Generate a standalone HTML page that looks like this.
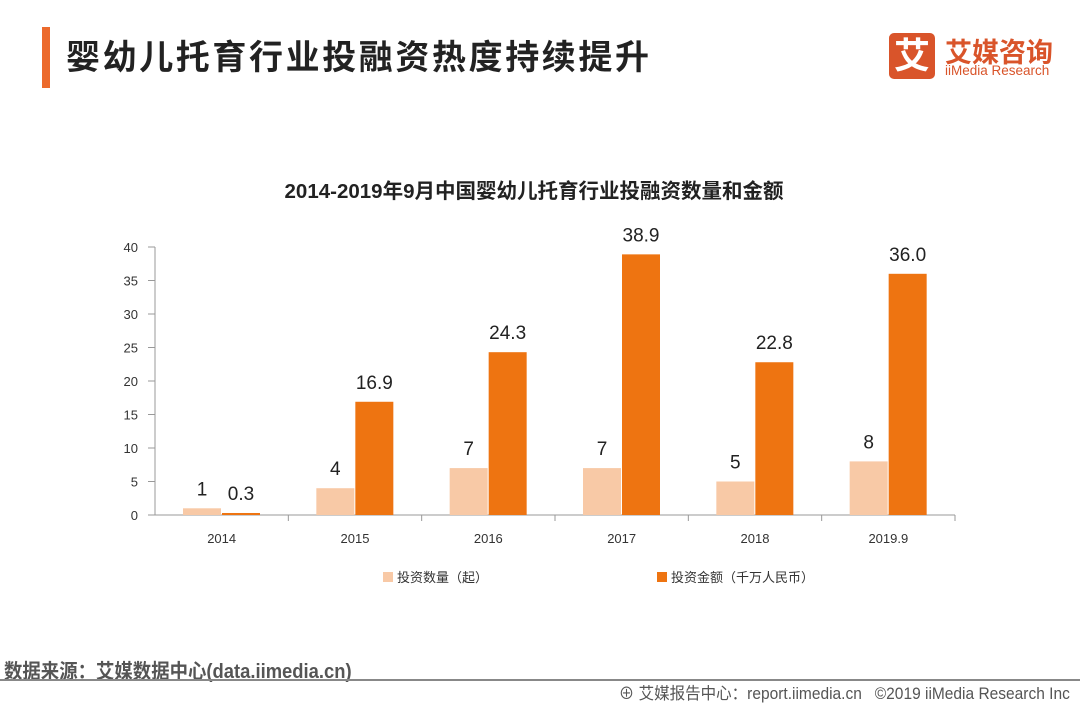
<!DOCTYPE html>
<html><head><meta charset="utf-8"><style>
body{margin:0;width:1080px;height:702px;background:#fff;overflow:hidden;font-family:"Liberation Sans","Noto Sans CJK SC",sans-serif;position:relative}
.abs{position:absolute}
</style></head><body>
<div class="abs" style="left:42px;top:27px;width:8px;height:61px;background:#ec6a2c"></div>
<div class="abs" style="left:66px;top:30px;font-size:34px;font-weight:bold;color:#222;letter-spacing:2.6px">婴幼儿托育行业投融资热度持续提升</div>
<div class="abs" style="left:889px;top:33px;width:170px;height:48px">
  <div class="abs" style="left:0;top:0;width:46px;height:46px;background:#d9542a;border-radius:5px;color:#fff;font-size:36px;font-weight:bold;text-align:center;line-height:46px">艾</div>
  <div class="abs" style="left:56px;top:-2px;font-size:27px;font-weight:bold;color:#d9542a;letter-spacing:0px">艾媒咨询</div>
  <div class="abs" style="left:56px;top:30px;font-size:13.5px;color:#d9542a">iiMedia Research</div>
</div>
<svg class="abs" style="left:0;top:0" width="1080" height="702">
<text x="534" y="198" text-anchor="middle" font-size="20.5" font-weight="bold" fill="#222">2014-2019年9月中国婴幼儿托育行业投融资数量和金额</text>
<g id="g"></g>
</svg>
<div class="abs" style="left:4px;top:655px;font-size:20px;color:#555;font-weight:bold;transform:scaleX(0.92);transform-origin:left">数据来源：艾媒数据中心(data.iimedia.cn)</div>
<div class="abs" style="left:0;top:679px;width:1080px;height:2px;background:#888"></div>
<div class="abs" style="right:10px;top:680px;font-size:16.5px;color:#555;transform:scaleX(0.94);transform-origin:right">⊕ 艾媒报告中心：report.iimedia.cn &nbsp; ©2019 iiMedia Research Inc</div>
<script>
const categories=["2014","2015","2016","2017","2018","2019.9"];
const countValues=[1,4,7,7,5,8];
const amountValues=[0.3,16.9,24.3,38.9,22.8,36.0];
const amountLabels=["0.3","16.9","24.3","38.9","22.8","36.0"];
const yTicks=[0,5,10,15,20,25,30,35,40];
const seriesNames=["投资数量（起）","投资金额（千万人民币）"];
const NS="http://www.w3.org/2000/svg",g=document.getElementById('g');
const x0=155,x1=955,yb=515,yt=247,ymax=40;
const y=v=>yb-(yb-yt)*v/ymax;
const gw=(x1-x0)/categories.length;
function mk(t,a,txt){const e=document.createElementNS(NS,t);for(const k in a)e.setAttribute(k,a[k]);if(txt!=null)e.textContent=txt;g.appendChild(e);return e;}
yTicks.forEach(v=>{
 const t=mk('text',{x:138,y:y(v)+5,'text-anchor':'end','font-size':13,fill:'#333'},v);
 
 
 mk('line',{x1:148,x2:155,y1:y(v),y2:y(v),stroke:'#999'});
});
mk('line',{x1:155,x2:155,y1:yt,y2:yb,stroke:'#999'});
mk('line',{x1:x0,x2:x1,y1:yb,y2:yb,stroke:'#999'});
categories.forEach((c,i)=>{
 const gx=x0+gw*i;
 mk('line',{x1:gx+gw,x2:gx+gw,y1:yb,y2:yb+6,stroke:'#999'});
 const t=mk('text',{x:gx+gw/2,y:yb+28,'text-anchor':'middle','font-size':13,fill:'#333'},c);
 
 
 const b1=mk('rect',{x:gx+28,y:y(countValues[i]),width:38,height:yb-y(countValues[i]),fill:'#f8c9a6'});
 
 
 const b2=mk('rect',{x:gx+67,y:y(amountValues[i]),width:38,height:yb-y(amountValues[i]),fill:'#ee7411'});
 
 
 const l1=mk('text',{x:gx+47,y:y(countValues[i])-13,'text-anchor':'middle','font-size':19,fill:'#222'},countValues[i]);
 
 
 const l2=mk('text',{x:gx+86,y:y(amountValues[i])-13,'text-anchor':'middle','font-size':19,fill:'#222'},amountLabels[i]);
 
 
});
[[383,'#f8c9a6'],[657,'#ee7411']].forEach((p,i)=>{
 const r=mk('rect',{x:p[0],y:572,width:10,height:10,fill:p[1]});
 
 
 const t=mk('text',{x:p[0]+14,y:582,'font-size':13,fill:'#333'},seriesNames[i]);
 
 
});
</script>
</body></html>
